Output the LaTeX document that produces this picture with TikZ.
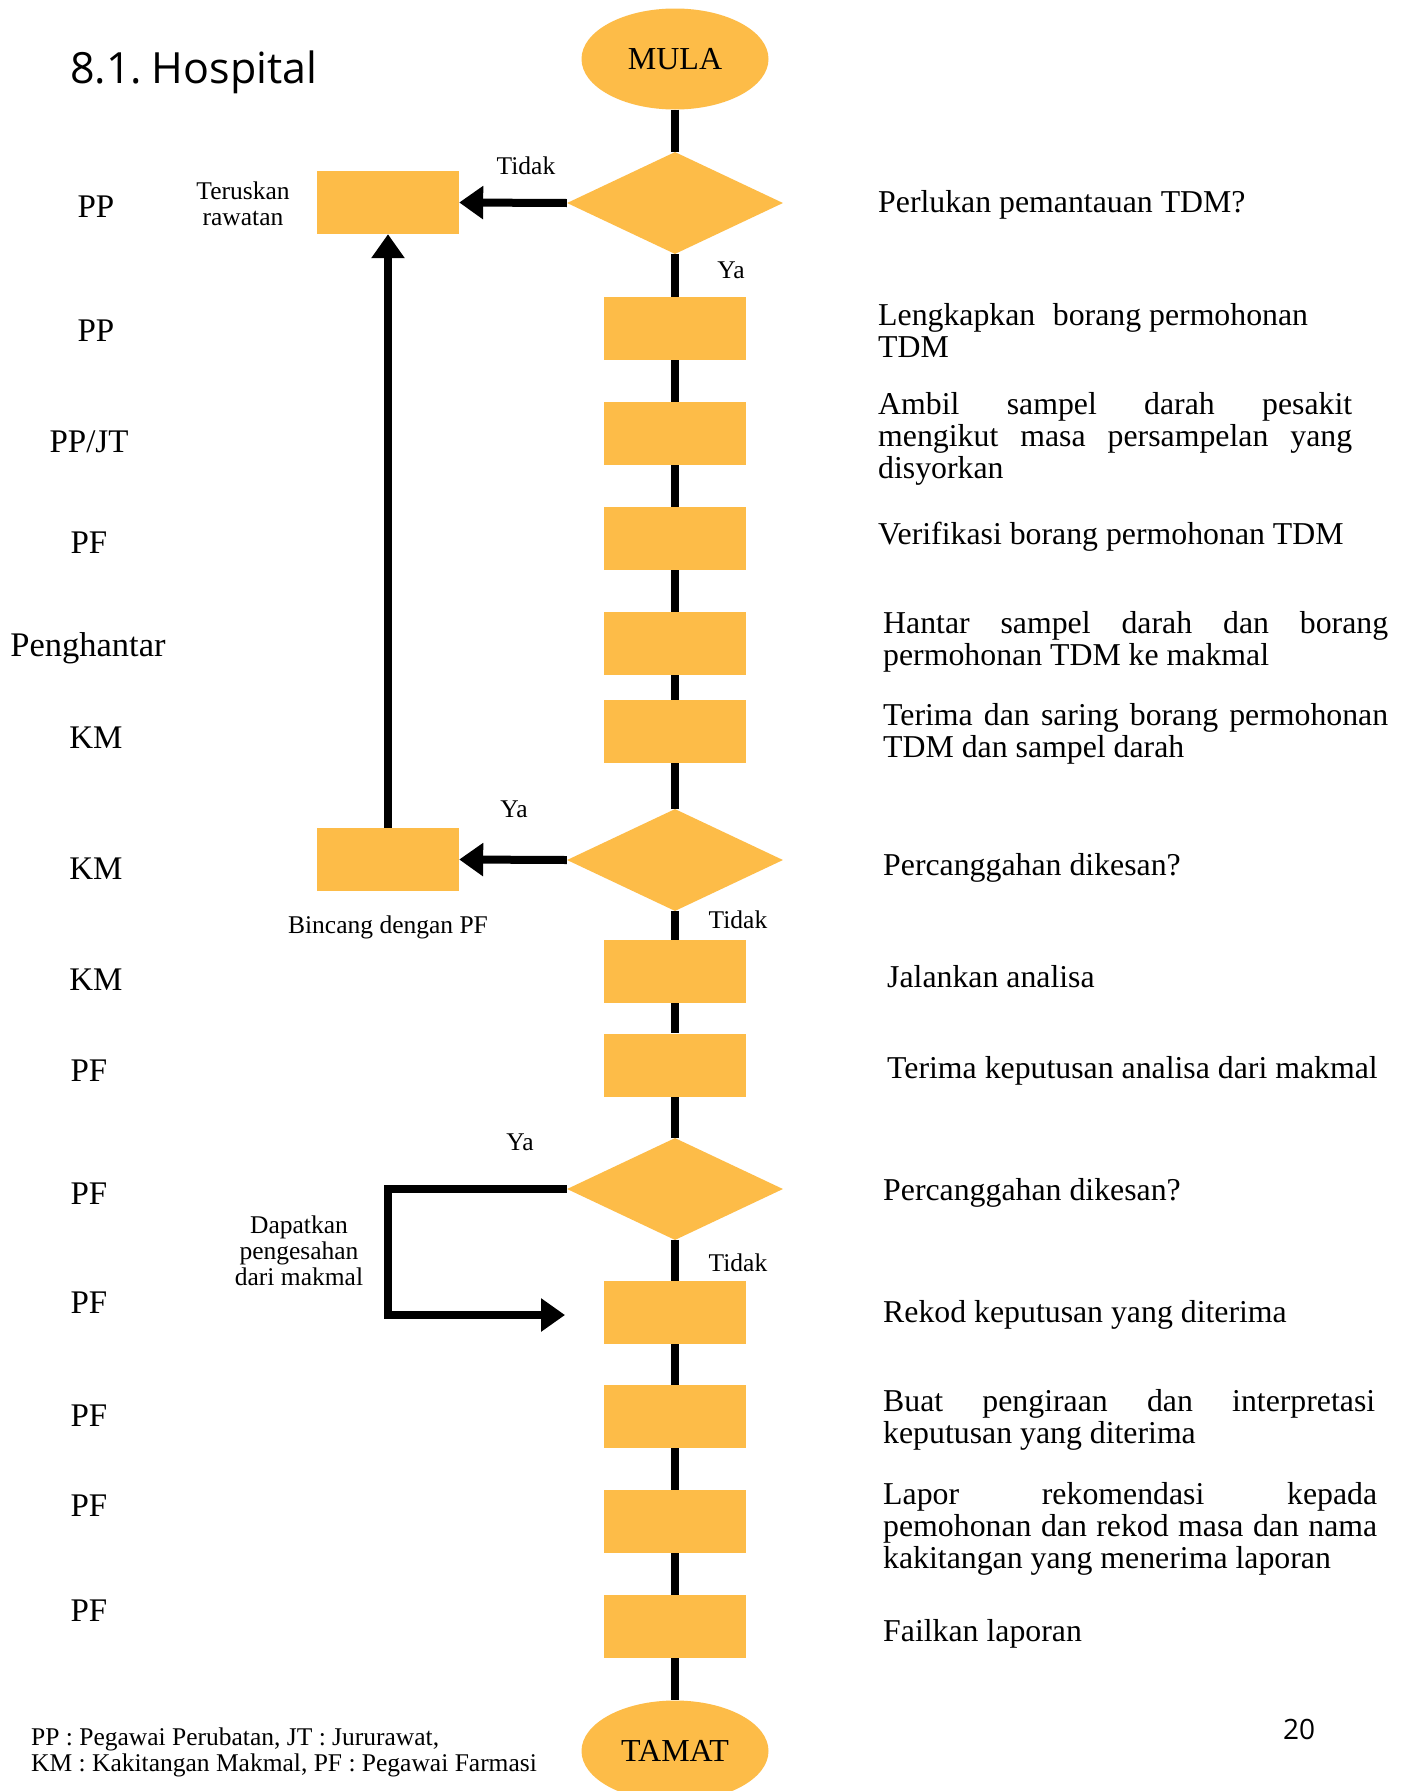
\documentclass[tikz,border=0pt]{standalone}
\usepackage{fontspec}
\setmainfont{Liberation Serif}
\newfontfamily\titlefont{Open Sans}
\usetikzlibrary{shapes.geometric,arrows.meta}
\definecolor{boxc}{HTML}{FDBC48}
\pgfdeclarelayer{bg}
\pgfsetlayers{bg,main}
\begin{document}
\begin{tikzpicture}[x=1pt,y=-1pt,
  stepbox/.style={fill=boxc,minimum width=142pt,minimum height=63pt,inner sep=0pt},
  decis/.style={diamond,fill=boxc,minimum width=216pt,minimum height=102pt,inner sep=0pt},
  terminal/.style={ellipse,fill=boxc,minimum width=187pt,minimum height=101pt,inner sep=0pt,font=\fontsize{32}{34}\selectfont},
  role/.style={anchor=base,font=\fontsize{33}{32}\selectfont,inner sep=0pt},
  desc/.style={anchor=base west,font=\fontsize{31.8}{32}\selectfont,inner sep=0pt,align=left},
  small/.style={anchor=base,font=\fontsize{25.5}{26}\selectfont,inner sep=0pt,align=center},
  flow/.style={line width=8pt},
  arr/.style={line width=8pt,-{Triangle[width=32pt,length=24pt]}},
]
\useasboundingbox (0,0) rectangle (1407,1791);

% title and page number
\node[anchor=base west,inner sep=0pt,font=\titlefont\fontsize{43}{45}\selectfont] (title) at (70,83) {8.1.\hspace{-0.12em} Hospital};
\node[anchor=base west,inner sep=0pt,font=\titlefont\fontsize{28}{30}\selectfont] (pageno) at (1283,1739) {20};

% main column
\node[terminal] (mula) at (675,59) {MULA};
\node[decis] (d1) at (675,203) {};
\node[stepbox] (b1) at (675,328.5) {};
\node[stepbox] (b2) at (675,433.5) {};
\node[stepbox] (b3) at (675,538.5) {};
\node[stepbox] (b4) at (675,643.5) {};
\node[stepbox] (b5) at (675,731.5) {};
\node[decis] (d2) at (675,860) {};
\node[stepbox] (b6) at (675,971.5) {};
\node[stepbox] (b7) at (675,1065) {};
\node[decis] (d3) at (675,1189) {};
\node[stepbox] (b8) at (675,1312.5) {};
\node[stepbox] (b9) at (675,1416.5) {};
\node[stepbox] (b10) at (675,1521.5) {};
\node[stepbox] (b11) at (675,1626.5) {};
\node[terminal] (tamat) at (675,1751) {TAMAT};

% side boxes
\node[stepbox] (tr) at (388,202.5) {};
\node[stepbox] (bc) at (388,859.5) {};

\begin{pgfonlayer}{bg}
\fill[white] (0,0) rectangle (1407,1791);
\draw[flow] (mula) -- (d1) -- (b1) -- (b2) -- (b3) -- (b4) -- (b5) -- (d2) -- (b6) -- (b7) -- (d3) -- (b8) -- (b9) -- (b10) -- (b11) -- (tamat);
\end{pgfonlayer}

% side connectors
\coordinate (cturn) at (388,1315);
\coordinate (cret) at (565,1315);
\draw[arr] (d1.west) -- (tr.east);
\draw[arr] (bc.north) -- (tr.south);
\draw[arr] (d2.west) -- (bc.east);
\draw[arr] (d3.west) -| (cturn) -- (cret);

% small labels
\node[small] (l1) at (526,174) {Tidak};
\node[small] (l2) at (731,278) {Ya};
\node[small] (l3) at (243,225) {Teruskan\\rawatan};
\node[small] (l4) at (514,817) {Ya};
\node[small] (l5) at (388,933) {Bincang dengan PF};
\node[small] (l6) at (738,928) {Tidak};
\node[small] (l7) at (520,1150) {Ya};
\node[small] (l8) at (299,1285) {Dapatkan\\pengesahan\\dari makmal};
\node[small] (l9) at (738,1271) {Tidak};

% roles
\node[role] (r1) at (96,217) {PP};
\node[role] (r2) at (96,341) {PP};
\node[role] (r3) at (89,452) {PP/JT};
\node[role] (r4) at (89,553) {PF};
\node[role,font=\fontsize{34.5}{34}\selectfont] (r5) at (88,656) {Penghantar};
\node[role] (r6) at (96,748) {KM};
\node[role] (r7) at (96,879) {KM};
\node[role] (r8) at (96,990) {KM};
\node[role] (r9) at (89,1081) {PF};
\node[role] (r10) at (89,1204) {PF};
\node[role] (r11) at (89,1313) {PF};
\node[role] (r12) at (89,1426) {PF};
\node[role] (r13) at (89,1516) {PF};
\node[role] (r14) at (89,1621) {PF};

% descriptions (anchor = baseline of last line)
\node[desc] (t1) at (878,212) {Perlukan pemantauan TDM?};
\node[desc] (t2) at (878,357) {Lengkapkan\hspace{0.3em} borang permohonan\\TDM};
\node[desc] (t3) at (878,478) {\makebox[474pt][s]{Ambil sampel darah pesakit}\\\makebox[474pt][s]{mengikut masa persampelan yang}\\disyorkan};
\node[desc] (t4) at (878,544) {Verifikasi borang permohonan TDM};
\node[desc] (t5) at (883,665) {\makebox[505pt][s]{Hantar sampel darah dan borang}\\permohonan TDM ke makmal};
\node[desc] (t6) at (883,757) {\makebox[505pt][s]{Terima dan saring borang permohonan}\\TDM dan sampel darah};
\node[desc] (t7) at (883,875) {Percanggahan dikesan?};
\node[desc] (t8) at (887,987) {Jalankan analisa};
\node[desc] (t9) at (887,1078) {Terima keputusan analisa dari makmal};
\node[desc] (t10) at (883,1200) {Percanggahan dikesan?};
\node[desc] (t11) at (883,1322) {Rekod keputusan yang diterima};
\node[desc] (t12) at (883,1443) {\makebox[492pt][s]{Buat pengiraan dan interpretasi}\\keputusan yang diterima};
\node[desc] (t13) at (883,1568) {\makebox[494pt][s]{Lapor rekomendasi kepada}\\\makebox[494pt][s]{pemohonan dan rekod masa dan nama}\\kakitangan yang menerima laporan};
\node[desc] (t14) at (883,1641) {Failkan laporan};

% footnote
\node[anchor=base west,inner sep=0pt,align=left,font=\fontsize{25.5}{26}\selectfont] (foot) at (31,1771) {PP : Pegawai Perubatan, JT : Jururawat,\\KM : Kakitangan Makmal, PF : Pegawai Farmasi};
\end{tikzpicture}
\end{document}
